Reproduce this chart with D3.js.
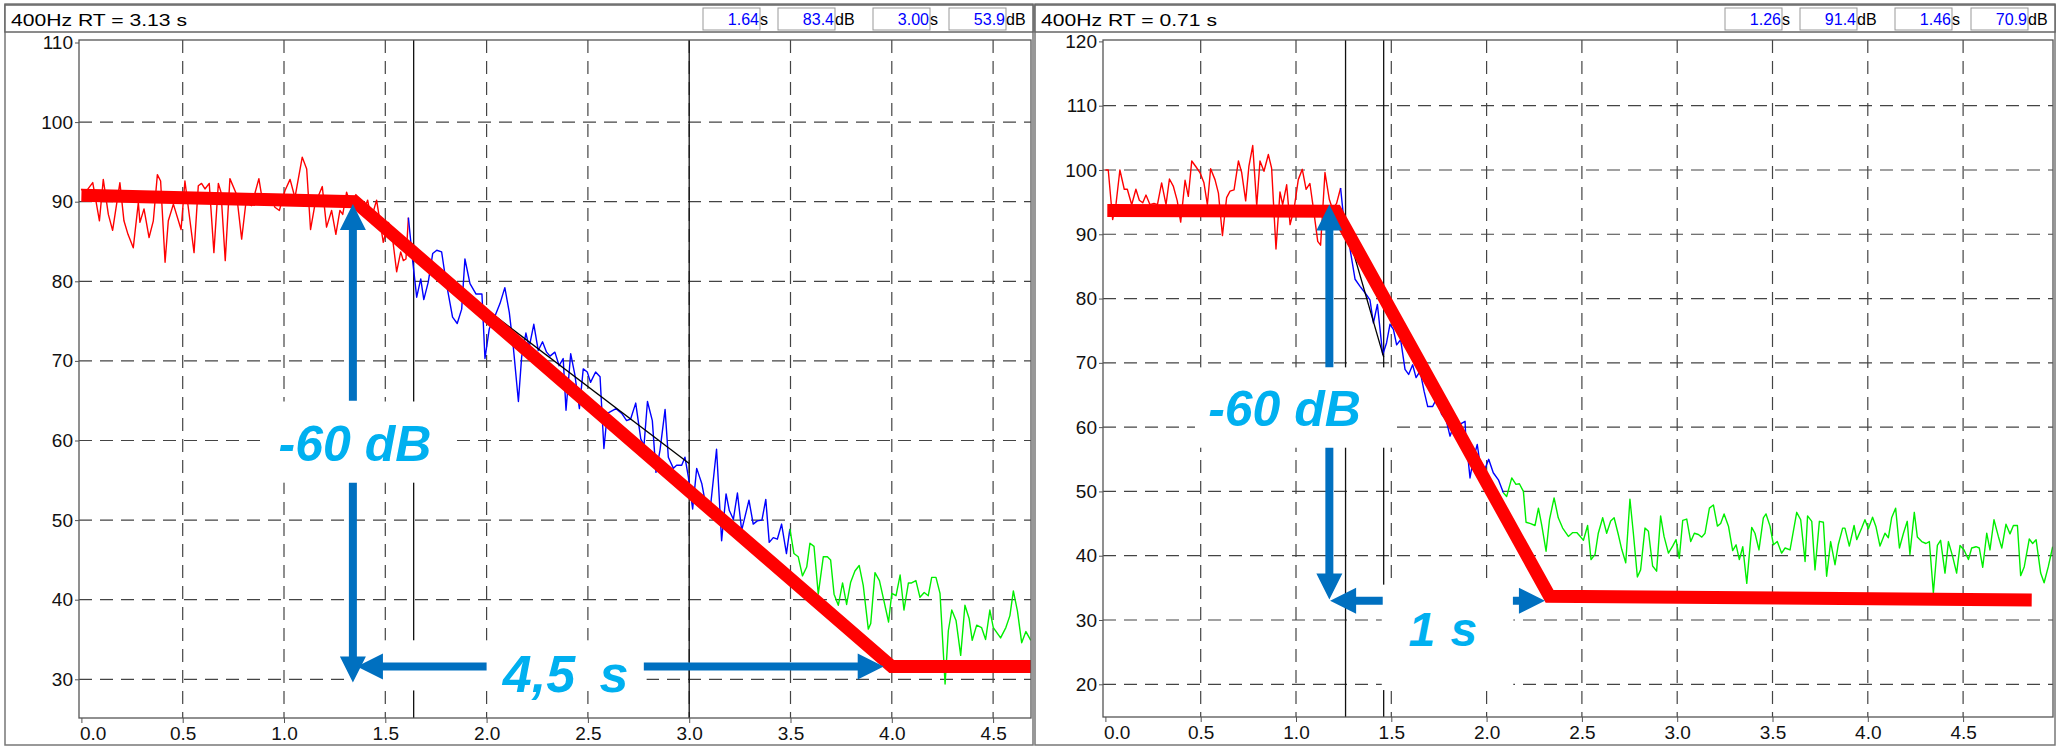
<!DOCTYPE html>
<html>
<head>
<meta charset="utf-8">
<script src="https://cdn.jsdelivr.net/npm/d3@7"></script>
<style>
  body { margin: 0; background: #fff; }
  svg { display: block; }
  text { font-family: "Liberation Sans", Arial, sans-serif; }
</style>
</head>
<body>
<script>
// ---- data (time in s, level in dB) ----
var xTicks = [0, 0.5, 1, 1.5, 2, 2.5, 3, 3.5, 4, 4.5];
var yTicksLeft = [30, 40, 50, 60, 70, 80, 90, 100, 110];
var yTicksRight = [20, 30, 40, 50, 60, 70, 80, 90, 100, 110, 120];

var leftTitle = "400Hz  RT = 3.13 s";
var rightTitle = "400Hz  RT = 0.71 s";
var leftReadout = [["1.64", "s"], ["83.4", "dB"], ["3.00", "s"], ["53.9", "dB"]];
var rightReadout = [["1.26", "s"], ["91.4", "dB"], ["1.46", "s"], ["70.9", "dB"]];
var leftCursors = [1.64, 3.0];
var rightCursors = [1.26, 1.46];

var leftRed = [[0.00,91.6],[0.01,91.2],[0.026,91.4],[0.056,92.4],[0.089,87.6],[0.108,92.8],[0.133,88.4],[0.154,86.4],[0.19,92.4],[0.21,87.6],[0.23,85.9],[0.256,84.2],[0.281,89.9],[0.289,87.4],[0.309,89.1],[0.334,85.5],[0.355,87.6],[0.375,93.4],[0.391,92.6],[0.413,82.4],[0.429,87.6],[0.454,89.7],[0.492,86.5],[0.511,92.6],[0.556,83.6],[0.577,92.0],[0.593,92.3],[0.61,91.6],[0.631,92.3],[0.654,83.6],[0.676,92.3],[0.689,91.2],[0.71,82.6],[0.733,92.9],[0.766,90.9],[0.791,85.3],[0.812,89.9],[0.84,89.5],[0.876,92.9],[0.89,90.7],[0.914,90.5],[0.93,90.9],[0.955,89.3],[0.977,88.9],[1.005,91.4],[1.03,92.8],[1.054,90.5],[1.09,95.6],[1.112,94.1],[1.131,86.5],[1.153,89.7],[1.189,91.9],[1.21,86.8],[1.235,88.9],[1.256,85.9],[1.276,88.9],[1.29,88.4],[1.309,91.2],[1.33,89.5],[1.355,90.9],[1.375,89.9],[1.39,88.6],[1.413,90.2],[1.43,87.8],[1.457,90.2],[1.49,84.9],[1.515,87.4],[1.53,86.6],[1.556,81.2],[1.576,83.7],[1.589,82.6],[1.602,82.8],[1.614,88.0]];
var leftBlue = [[1.614,88.0],[1.635,82.6],[1.655,78.0],[1.675,80.3],[1.69,77.7],[1.712,79.9],[1.734,83.5],[1.754,83.9],[1.778,83.7],[1.799,80.1],[1.832,75.5],[1.855,74.7],[1.877,76.5],[1.893,82.8],[1.918,79.7],[1.948,78.4],[1.977,78.4],[1.992,70.3],[2.013,74.0],[2.041,75.6],[2.066,77.2],[2.09,79.2],[2.112,76.1],[2.132,71.7],[2.157,64.9],[2.173,70.5],[2.194,73.5],[2.21,71.7],[2.233,74.6],[2.255,71.3],[2.276,72.4],[2.296,71.1],[2.313,70.6],[2.337,71.1],[2.358,69.4],[2.378,70.3],[2.392,63.8],[2.415,70.9],[2.436,68.2],[2.458,64.0],[2.477,69.0],[2.497,68.6],[2.513,67.3],[2.538,68.6],[2.56,68.0],[2.579,59.0],[2.596,63.4],[2.639,64.0],[2.667,63.4],[2.691,62.5],[2.711,62.7],[2.736,64.7],[2.761,60.2],[2.777,59.4],[2.794,64.9],[2.818,62.5],[2.836,56.0],[2.856,58.8],[2.881,63.9],[2.897,57.9],[2.922,56.5],[2.938,56.9],[2.963,56.9],[2.979,57.9],[2.996,55.4],[3.017,51.4],[3.037,56.5],[3.062,54.6],[3.078,52.4],[3.103,51.2],[3.135,58.9],[3.16,47.4],[3.182,53.3],[3.198,51.2],[3.218,50.1],[3.238,53.4],[3.259,48.7],[3.276,50.5],[3.295,52.5],[3.316,49.5],[3.336,49.9],[3.359,50.0],[3.378,52.6],[3.395,47.2],[3.415,47.8],[3.435,47.6],[3.456,49.5],[3.48,45.8],[3.497,48.9]];
var leftGreen = [[3.497,48.9],[3.517,45.8],[3.538,45.4],[3.559,43.0],[3.58,44.1],[3.596,47.1],[3.616,46.7],[3.637,40.7],[3.662,45.4],[3.682,45.4],[3.698,45.0],[3.715,40.7],[3.736,39.3],[3.757,42.1],[3.777,39.4],[3.797,42.2],[3.818,43.6],[3.839,44.3],[3.859,41.8],[3.884,36.3],[3.896,37.0],[3.917,43.4],[3.939,42.4],[3.959,40.1],[3.984,37.2],[4.0,40.8],[4.021,40.5],[4.041,43.1],[4.06,38.7],[4.082,42.1],[4.098,42.1],[4.119,42.4],[4.139,40.3],[4.16,40.9],[4.18,40.5],[4.197,42.8],[4.218,42.8],[4.238,40.8],[4.263,29.4],[4.279,36.1],[4.296,38.7],[4.317,37.4],[4.34,33.0],[4.361,39.3],[4.382,37.6],[4.397,34.9],[4.419,36.8],[4.443,36.5],[4.463,35.0],[4.484,38.7],[4.501,36.5],[4.537,35.2],[4.563,36.5],[4.583,38.0],[4.6,41.1],[4.62,38.6],[4.641,34.6],[4.662,36.0],[4.686,34.9]];
var leftFit = [[0, 90.8], [1.35, 90.0], [4.0, 31.6], [4.72, 31.6]];
var leftSlope = [[1.64, 83.4], [3.0, 57.1]];

var rightRed = [[0.0,100.0],[0.015,100.0],[0.038,92.3],[0.056,94.8],[0.076,100.0],[0.099,97.0],[0.115,97.0],[0.138,94.6],[0.16,97.0],[0.178,95.3],[0.196,94.9],[0.213,96.1],[0.234,94.6],[0.255,94.8],[0.273,94.6],[0.295,98.0],[0.318,94.6],[0.336,98.6],[0.356,97.5],[0.377,95.2],[0.395,91.9],[0.418,98.4],[0.435,95.9],[0.453,101.4],[0.475,100.5],[0.496,99.6],[0.517,98.0],[0.535,94.6],[0.552,100.2],[0.575,98.5],[0.593,96.4],[0.614,89.8],[0.636,95.7],[0.654,96.7],[0.675,96.9],[0.698,101.4],[0.715,99.6],[0.736,95.2],[0.753,100.6],[0.773,103.8],[0.794,94.4],[0.811,101.4],[0.832,99.8],[0.855,102.4],[0.872,100.3],[0.895,87.7],[0.916,96.6],[0.93,94.6],[0.951,97.7],[0.969,91.5],[0.99,94.0],[1.012,98.5],[1.033,100.1],[1.053,97.0],[1.073,97.9],[1.094,93.4],[1.114,88.9],[1.129,88.3],[1.152,99.6],[1.175,95.4],[1.192,93.9],[1.213,94.8],[1.234,97.2]];
var rightBlue = [[1.234,97.2],[1.248,93.1],[1.275,89.2],[1.31,83.0],[1.336,81.9],[1.362,80.9],[1.388,79.8],[1.406,76.2],[1.427,79.1],[1.455,71.3],[1.475,73.1],[1.493,76.0],[1.511,75.2],[1.528,72.8],[1.549,73.6],[1.572,69.0],[1.591,68.2],[1.612,69.7],[1.63,67.7],[1.651,68.7],[1.672,65.6],[1.691,63.2],[1.717,63.2],[1.738,64.5],[1.764,62.0],[1.787,61.2],[1.808,58.6],[1.826,60.1],[1.843,58.6],[1.864,60.5],[1.887,60.9],[1.89,58.8],[1.913,52.1],[1.93,55.0],[1.951,57.3],[1.965,54.4],[1.986,53.1],[2.011,55.0],[2.035,52.9],[2.062,51.8],[2.088,49.8]];
var rightGreen = [[2.088,49.8],[2.105,49.2],[2.132,52.1],[2.154,51.1],[2.172,51.2],[2.193,50.0],[2.207,45.2],[2.231,45.0],[2.254,44.7],[2.272,47.4],[2.289,44.8],[2.312,40.7],[2.33,45.6],[2.354,49.0],[2.376,45.9],[2.399,44.3],[2.429,43.0],[2.452,43.6],[2.473,43.6],[2.494,42.9],[2.508,42.4],[2.53,44.7],[2.548,39.4],[2.569,40.2],[2.586,43.5],[2.609,45.9],[2.63,43.5],[2.651,45.4],[2.669,45.9],[2.691,43.3],[2.709,41.0],[2.73,38.9],[2.752,48.8],[2.77,43.5],[2.791,36.7],[2.808,37.8],[2.831,44.3],[2.849,43.8],[2.871,38.4],[2.892,37.6],[2.913,46.2],[2.931,43.0],[2.954,40.4],[2.976,41.5],[2.994,42.5],[3.011,39.6],[3.029,45.5],[3.05,45.7],[3.071,42.2],[3.09,43.5],[3.111,43.3],[3.129,42.9],[3.146,43.5],[3.169,47.4],[3.19,47.9],[3.211,44.6],[3.228,45.0],[3.246,46.5],[3.269,44.6],[3.291,40.8],[3.309,41.7],[3.326,39.4],[3.344,41.4],[3.365,35.7],[3.391,44.4],[3.408,43.5],[3.429,40.9],[3.452,45.9],[3.466,46.5],[3.487,44.6],[3.505,41.7],[3.525,42.2],[3.548,40.4],[3.566,41.2],[3.592,40.9],[3.627,46.75],[3.648,45.6],[3.671,39.1],[3.684,46.2],[3.706,45.35],[3.723,37.8],[3.746,45.35],[3.767,45.2],[3.784,36.8],[3.805,42.2],[3.828,38.6],[3.845,41.7],[3.868,44.3],[3.88,44.3],[3.903,41.5],[3.928,44.7],[3.942,42.5],[3.968,44.3],[3.985,45.6],[4.003,44.2],[4.025,46.0],[4.043,44.5],[4.064,41.5],[4.09,43.5],[4.108,42.8],[4.125,45.9],[4.146,47.4],[4.166,41.2],[4.187,43.5],[4.207,45.35],[4.221,40.2],[4.244,46.75],[4.26,42.9],[4.283,42.2],[4.305,41.9],[4.323,42.2],[4.344,34.2],[4.365,41.6],[4.382,42.4],[4.405,37.3],[4.423,42.2],[4.445,39.9],[4.466,37.3],[4.484,41.6],[4.505,40.9],[4.528,39.4],[4.545,41.2],[4.568,41.4],[4.585,41.2],[4.603,38.2],[4.624,43.5],[4.641,40.9],[4.662,45.6],[4.685,43.0],[4.703,41.2],[4.725,44.9],[4.746,43.4],[4.764,44.7],[4.785,44.7],[4.802,36.9],[4.821,38.3],[4.847,42.6],[4.865,41.9],[4.883,42.5],[4.907,37.3],[4.925,35.8],[4.947,38.3],[4.97,41.4]];
var rightFit = [[0.01, 93.7], [1.21, 93.6], [2.33, 33.7], [4.86, 33.1]];
var rightSlope = [[1.26, 91.4], [1.46, 70.9]];

// annotations (data units)
var leftNotes = {
  dbBox: [0.92, 1.844, 54.7, 64.9], dbText: [1.35, 57.4],
  up: [1.34, 65.0, 89.7], down: [1.34, 54.7, 29.6],
  back: [31.6, 2.0, 1.36], fwd: [31.6, 2.776, 3.96],
  sBox: [1.345, 2.79, 28.6, 34.9], sText: [2.39, 28.4], sLabel: "4,5 s", sSize: 52, sGap: 10
};
var rightNotes = {
  dbBox: [0.47, 1.53, 56.8, 69.3], dbText: [0.94, 60.2],
  up: [1.175, 69.3, 94.65], down: [1.175, 56.8, 33.2],
  back: [33.0, 1.455, 1.179], fwd: [33.0, 2.138, 2.306],
  sBox: [1.45, 2.14, 19.1, 35.5], sText: [1.77, 26.0], sLabel: "1 s", sSize: 48, sGap: 2
};

var W = 2060, H = 746;
var svg = d3.select("body").append("svg").attr("width", W).attr("height", H);

function panel(o) {
  var g = svg.append("g");
  var x = d3.scaleLinear().domain(o.xDomain).range(o.xRange);
  var y = d3.scaleLinear().domain(o.yDomain).range(o.yRange);
  var L = o.frame[0], R = o.frame[1], T = o.frame[2], B = o.frame[3];

  // panel border + header
  g.append("rect").attr("x", o.px0).attr("y", 4).attr("width", o.px1 - o.px0).attr("height", H - 5)
    .attr("fill", "none").attr("stroke", "#777").attr("stroke-width", 1.5);
  g.append("rect").attr("x", o.px0).attr("y", 5).attr("width", o.px1 - o.px0).attr("height", 27)
    .attr("fill", "#fff").attr("stroke", "#666").attr("stroke-width", 1.5);
  g.append("text").attr("x", o.px0 + 6).attr("y", 26).attr("font-size", 17)
    .attr("textLength", 176).attr("lengthAdjust", "spacingAndGlyphs").text(o.title);

  var boxX = [330, 255, 160, 84];
  o.readout.forEach(function(r, i) {
    var bx = o.px1 - boxX[i];
    g.append("rect").attr("x", bx).attr("y", 8).attr("width", 57).attr("height", 22)
      .attr("fill", "#fff").attr("stroke", "#999").attr("stroke-width", 1);
    g.append("text").attr("x", bx + 56).attr("y", 25).attr("text-anchor", "end")
      .attr("font-size", 16).attr("fill", "#0000ff").text(r[0]);
    g.append("text").attr("x", bx + 57).attr("y", 25).attr("font-size", 16).text(r[1]);
  });

  var clipId = "clip" + o.id;
  svg.append("clipPath").attr("id", clipId).append("rect")
    .attr("x", L).attr("y", T).attr("width", R - L).attr("height", B - T);
  var plot = g.append("g").attr("clip-path", "url(#" + clipId + ")");

  // grid
  plot.selectAll(".hg").data(o.yTicks.slice(0, -1)).enter().append("line")
    .attr("x1", L).attr("x2", R).attr("y1", d => y(d)).attr("y2", d => y(d))
    .attr("stroke", "#444").attr("stroke-width", 1.2).attr("stroke-dasharray", "13,8");
  plot.selectAll(".vg").data(xTicks.slice(1)).enter().append("line")
    .attr("y1", T).attr("y2", B).attr("x1", d => x(d)).attr("x2", d => x(d))
    .attr("stroke", "#444").attr("stroke-width", 1.2).attr("stroke-dasharray", "13,8");

  // cursors
  plot.selectAll(".cur").data(o.cursors).enter().append("line")
    .attr("y1", T).attr("y2", B).attr("x1", d => x(d)).attr("x2", d => x(d))
    .attr("stroke", "#111").attr("stroke-width", 1.3);

  var line = d3.line().x(d => x(d[0])).y(d => y(d[1]));
  [[o.red, "#ff0000"], [o.blue, "#0000ff"], [o.green, "#00ee00"]].forEach(function(s) {
    plot.append("path").attr("d", line(s[0])).attr("fill", "none")
      .attr("stroke", s[1]).attr("stroke-width", 1.4).attr("stroke-linejoin", "round");
  });
  plot.append("path").attr("d", line(o.slope)).attr("fill", "none")
    .attr("stroke", "#000").attr("stroke-width", 1.3);
  plot.append("path").attr("d", line(o.fit)).attr("fill", "none")
    .attr("stroke", "#ff0000").attr("stroke-width", 13).attr("stroke-linejoin", "miter");

  // annotations
  var n = o.notes;
  [n.dbBox, n.sBox].forEach(function(b) {
    plot.append("rect").attr("x", x(b[0])).attr("width", x(b[1]) - x(b[0]))
      .attr("y", y(b[3])).attr("height", y(b[2]) - y(b[3])).attr("fill", "#fff");
  });
  var blue = "#0070c0";
  function vArrow(a) {
    var cx = x(a[0]), y0 = y(a[1]), y1 = y(a[2]), dir = y1 < y0 ? -1 : 1;
    var hb = y1 - dir * 26;
    plot.append("path").attr("fill", blue).attr("d",
      "M" + (cx - 4) + "," + y0 + "L" + (cx - 4) + "," + hb + "L" + (cx - 13) + "," + hb +
      "L" + cx + "," + y1 + "L" + (cx + 13) + "," + hb + "L" + (cx + 4) + "," + hb +
      "L" + (cx + 4) + "," + y0 + "Z");
  }
  function hArrow(a) {
    var cy = y(a[0]), x0 = x(a[1]), x1 = x(a[2]), dir = x1 < x0 ? -1 : 1;
    var hb = x1 - dir * 26;
    plot.append("path").attr("fill", blue).attr("d",
      "M" + x0 + "," + (cy - 4) + "L" + hb + "," + (cy - 4) + "L" + hb + "," + (cy - 13) +
      "L" + x1 + "," + cy + "L" + hb + "," + (cy + 13) + "L" + hb + "," + (cy + 4) +
      "L" + x0 + "," + (cy + 4) + "Z");
  }
  vArrow(n.up); vArrow(n.down); hArrow(n.back); hArrow(n.fwd);
  [[n.dbText, "-60 dB", 50, 0], [n.sText, n.sLabel, n.sSize, n.sGap]].forEach(function(t) {
    plot.append("text").attr("x", x(t[0][0])).attr("y", y(t[0][1]))
      .attr("text-anchor", "middle").attr("fill", "#00b0f0")
      .attr("font-family", "DejaVu Sans").attr("font-weight", "bold").attr("font-style", "italic")
      .attr("word-spacing", t[3]).attr("font-size", t[2]).text(t[1]);
  });

  // frame and axes
  g.append("rect").attr("x", L).attr("y", T).attr("width", R - L).attr("height", B - T)
    .attr("fill", "none").attr("stroke", "#555").attr("stroke-width", 1.3);
  var yAxis = d3.axisLeft(y).tickValues(o.yTicks).tickSize(4).tickPadding(2);
  var ga = g.append("g").attr("transform", "translate(" + L + ",0)").call(yAxis);
  var xAxis = d3.axisBottom(x).tickValues(xTicks).tickSize(5).tickPadding(4).tickFormat(d3.format(".1f"));
  var gx = g.append("g").attr("transform", "translate(0," + B + ")").call(xAxis);
  [ga, gx].forEach(function(a) {
    a.select(".domain").remove();
    a.selectAll("line").attr("stroke", "#555");
    a.selectAll("text").attr("font-size", 19).attr("fill", "#111")
      .attr("font-family", "Liberation Sans, Arial, sans-serif");
  });
  gx.selectAll("text").filter(d => d === 0).attr("text-anchor", "start").attr("dx", -2);
}

panel({
  id: "L", px0: 5, px1: 1033, title: leftTitle, readout: leftReadout,
  xDomain: [0, 4.7], xRange: [81.4, 81.4 + 4.7 * 202.6],
  yDomain: [30, 110], yRange: [679.3, 42.5], yTicks: yTicksLeft,
  frame: [79, 1031, 40, 718], cursors: leftCursors,
  red: leftRed, blue: leftBlue, green: leftGreen, fit: leftFit, slope: leftSlope, notes: leftNotes
});
panel({
  id: "R", px0: 1035, px1: 2055, title: rightTitle, readout: rightReadout,
  xDomain: [0, 5], xRange: [1105.4, 1105.4 + 5 * 190.6],
  yDomain: [20, 120], yRange: [684.3, 41.4], yTicks: yTicksRight,
  frame: [1103, 2053, 40, 717], cursors: rightCursors,
  red: rightRed, blue: rightBlue, green: rightGreen, fit: rightFit, slope: rightSlope, notes: rightNotes
});
</script>
</body>
</html>
